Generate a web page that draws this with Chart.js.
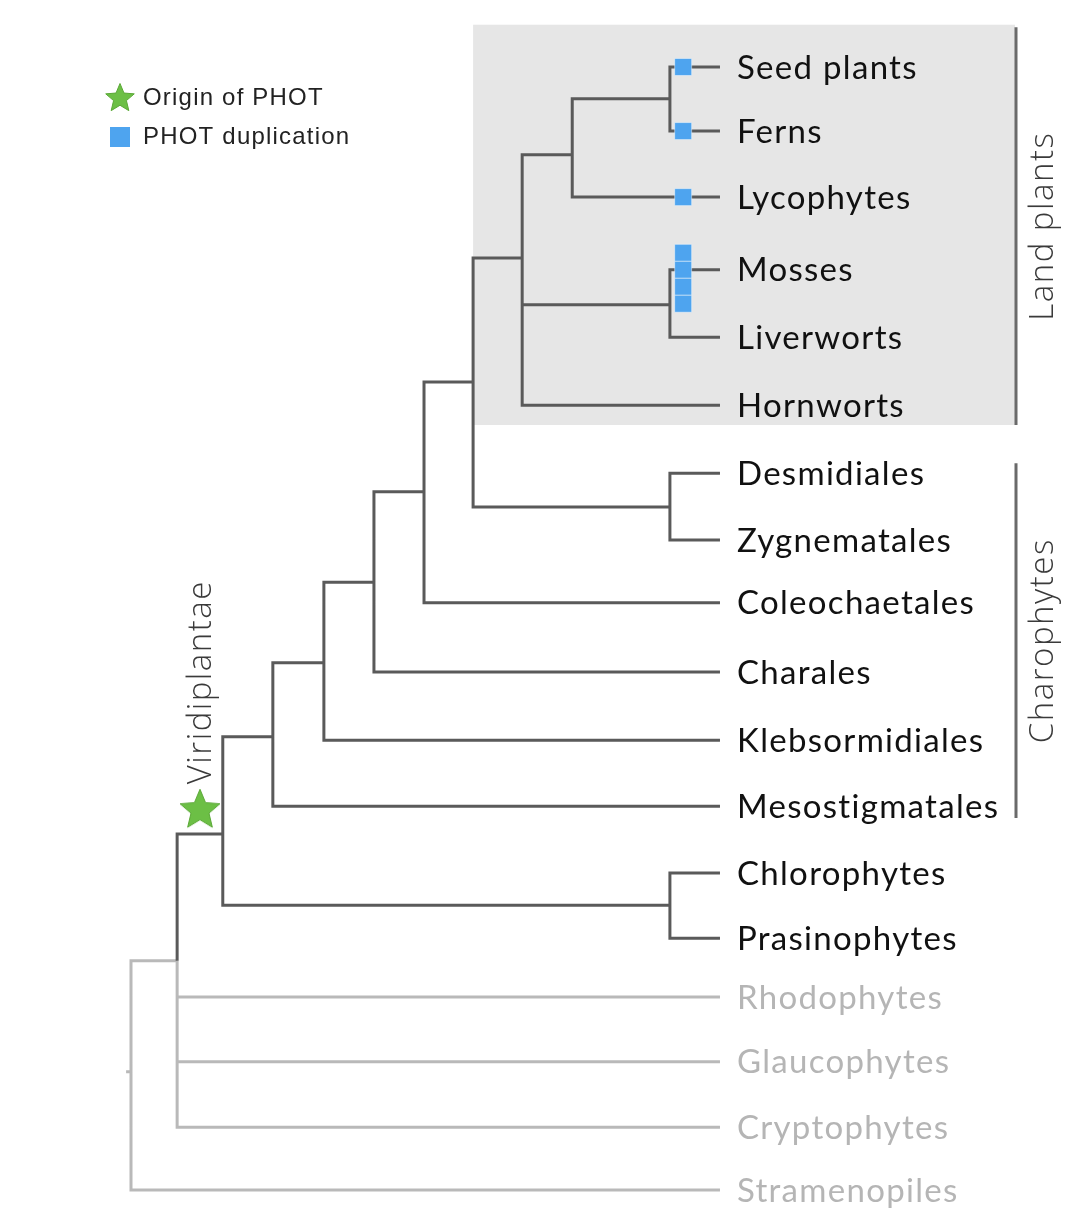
<!DOCTYPE html>
<html>
<head>
<meta charset="utf-8">
<script src="https://cdn.jsdelivr.net/npm/chart.js@4.4.0/dist/chart.umd.min.js"></script>
<style>
    html, body { margin: 0; padding: 0; background: #fff; }
    #wrap { width: 1090px; height: 1220px; position: relative; }
</style>
</head>
<body>
<div id="wrap"><canvas id="treeChart"></canvas></div>
<script>
// tips of the tree, top to bottom, with their row
const taxa = ['Seed plants', 'Ferns', 'Lycophytes', 'Mosses', 'Liverworts', 'Hornworts',
    'Desmidiales', 'Zygnematales', 'Coleochaetales', 'Charales', 'Klebsormidiales', 'Mesostigmatales',
    'Chlorophytes', 'Prasinophytes', 'Rhodophytes', 'Glaucophytes', 'Cryptophytes', 'Stramenopiles'];
const taxaRow = [0, 0.97, 1.97, 3.07, 4.09, 5.12, 6.15, 7.16, 8.11, 9.16, 10.19, 11.19,
    12.2, 13.19, 14.08, 15.06, 16.05, 17];
const tipDepth = 12;

// internal nodes: depth from the root, row of the stem, children
const nodeNames = ['sf', 'sfl', 'ml', 'land', 'dz', 'ldz', 'col', 'cha', 'kle', 'mes', 'chl',
    'Viridiplantae', 'arch', 'root'];
const nodeDepth = [10.98, 8.99, 10.98, 7.97, 10.98, 6.97, 5.97, 4.95, 3.93, 2.89, 10.98, 1.87, 0.94, 0];
const nodeRow = [0.48, 1.33, 3.6, 2.89, 6.66, 4.77, 6.43, 7.8, 9.02, 10.14, 12.69, 11.61, 13.53, 15.21];
const nodeChildren = [
    ['Seed plants', 'Ferns'],
    ['sf', 'Lycophytes'],
    ['Mosses', 'Liverworts'],
    ['sfl', 'ml', 'Hornworts'],
    ['Desmidiales', 'Zygnematales'],
    ['land', 'dz'],
    ['ldz', 'Coleochaetales'],
    ['col', 'Charales'],
    ['cha', 'Klebsormidiales'],
    ['kle', 'Mesostigmatales'],
    ['Chlorophytes', 'Prasinophytes'],
    ['mes', 'chl'],
    ['Viridiplantae', 'Rhodophytes', 'Glaucophytes', 'Cryptophytes'],
    ['arch', 'Stramenopiles']
];

// PHOT events
const originNode = 'Viridiplantae';
const duplicationTaxa = ['Seed plants', 'Ferns', 'Lycophytes', 'Mosses'];
const duplicationCounts = [1, 1, 1, 4];

// bracketed clades
const cladeNames = ['Land plants', 'Charophytes'];
const cladeFirst = ['Seed plants', 'Desmidiales'];
const cladeLast = ['Hornworts', 'Mesostigmatales'];
const shadedClade = 'Land plants';

const legendLabels = ['Origin of PHOT', 'PHOT duplication'];

const DARK = '#5a5a5a';
const LIGHT = '#b9b9b9';
const BLUE = '#4ea4ef';
const GREEN = '#6cbf45';

function depthOf(name) {
    const i = nodeNames.indexOf(name);
    return i >= 0 ? nodeDepth[i] : tipDepth;
}
function rowOf(name) {
    const i = nodeNames.indexOf(name);
    return i >= 0 ? nodeRow[i] : taxaRow[taxa.indexOf(name)];
}
function parentOf(name) {
    const i = nodeChildren.findIndex(ch => ch.includes(name));
    return i >= 0 ? nodeNames[i] : null;
}

// everything below Viridiplantae is drawn dark, the rest light
const greenSet = new Set();
(function collect(name) {
    greenSet.add(name);
    const i = nodeNames.indexOf(name);
    if (i >= 0) nodeChildren[i].forEach(collect);
})(originNode);

const darkLines = [];
const lightLines = [];
nodeNames.forEach((name, i) => {
    nodeChildren[i].forEach(child => {
        const target = greenSet.has(child) ? darkLines : lightLines;
        target.push({ x: nodeDepth[i], y: nodeRow[i] });
        target.push({ x: nodeDepth[i], y: rowOf(child) });
        target.push({ x: depthOf(child), y: rowOf(child) });
        target.push({ x: NaN, y: NaN });
    });
});
const rootIdx = nodeNames.indexOf('root');
lightLines.push({ x: nodeDepth[rootIdx] - 0.1, y: nodeRow[rootIdx] });
lightLines.push({ x: nodeDepth[rootIdx], y: nodeRow[rootIdx] });

// duplication squares sit near the end of the terminal branch, stacked when several
const dupPoints = [];
duplicationTaxa.forEach((t, i) => {
    const n = duplicationCounts[i];
    for (let k = 0; k < n; k++) {
        dupPoints.push({ x: tipDepth - 0.75, y: rowOf(t) + (k - (n > 1 ? 1 : 0)) * 0.257 });
    }
});

// origin star halfway along the Viridiplantae stem
const originPoint = [{
    x: (depthOf(parentOf(originNode)) + depthOf(originNode)) / 2,
    y: rowOf(originNode) - 0.39
}];

function makeStar(r, color) {
    const c = document.createElement('canvas');
    c.width = c.height = Math.ceil(r * 2 + 4);
    const g = c.getContext('2d');
    const cx = c.width / 2, cy = c.height / 2 + r * 0.1;
    g.beginPath();
    for (let k = 0; k < 10; k++) {
        const rr = k % 2 === 0 ? r : r * 0.45;
        const a = -Math.PI / 2 + k * Math.PI / 5;
        g.lineTo(cx + rr * Math.cos(a), cy + rr * Math.sin(a));
    }
    g.closePath();
    g.fillStyle = color;
    g.fill();
    g.strokeStyle = '#5aa836';
    g.lineWidth = 1;
    g.stroke();
    return c;
}
const bigStar = makeStar(21, GREEN);
const smallStar = makeStar(15, GREEN);

const treeDecor = {
    id: 'treeDecor',
    beforeDatasetsDraw(chart) {
        const { ctx, scales: { x, y } } = chart;
        const ci = cladeNames.indexOf(shadedClade);
        const left = x.getPixelForValue(depthOf(parentOf('land')));
        const top = y.getPixelForValue(rowOf(cladeFirst[ci]) - 0.64);
        const bottom = y.getPixelForValue(rowOf(cladeLast[ci]) + 0.3);
        ctx.save();
        ctx.fillStyle = '#e6e6e6';
        ctx.fillRect(left, top, 1015 - left, bottom - top);
        ctx.restore();
    },
    afterDatasetsDraw(chart) {
        const { ctx, scales: { x, y } } = chart;
        ctx.save();
        // tip labels
        ctx.textAlign = 'left';
        ctx.textBaseline = 'middle';
        ctx.font = '33px Lato';
        ctx.letterSpacing = '1.3px';
        taxa.forEach((t, i) => {
            ctx.fillStyle = greenSet.has(t) ? '#111' : '#b5b5b5';
            ctx.fillText(t, x.getPixelForValue(tipDepth) + 17, y.getPixelForValue(taxaRow[i]) + 1);
        });

        // clade brackets
        const bx = 1016;
        cladeNames.forEach((name, i) => {
            const pad = name === shadedClade ? [0.6, 0.3] : [0.15, 0.18];
            const y0 = y.getPixelForValue(rowOf(cladeFirst[i]) - pad[0]);
            const y1 = y.getPixelForValue(rowOf(cladeLast[i]) + pad[1]);
            ctx.strokeStyle = '#6a6a6a';
            ctx.lineWidth = 3;
            ctx.beginPath();
            ctx.moveTo(bx, y0);
            ctx.lineTo(bx, y1);
            ctx.stroke();
            ctx.save();
            ctx.translate(bx + 28, (y0 + y1) / 2);
            ctx.rotate(-Math.PI / 2);
            ctx.textAlign = 'center';
            ctx.textBaseline = 'middle';
            ctx.font = '300 33px "Open Sans"';
            ctx.letterSpacing = '1.5px';
            ctx.fillStyle = '#3a3a3a';
            ctx.fillText(name, 0, 0);
            ctx.restore();
        });

        // Viridiplantae label above the star
        const sx = x.getPixelForValue(originPoint[0].x);
        const sy = y.getPixelForValue(originPoint[0].y);
        ctx.save();
        ctx.translate(sx + 2, sy - 24);
        ctx.rotate(-Math.PI / 2);
        ctx.textAlign = 'left';
        ctx.textBaseline = 'middle';
        ctx.font = '300 33px "Open Sans"';
        ctx.letterSpacing = '1.5px';
        ctx.fillStyle = '#3a3a3a';
        ctx.fillText(originNode, 0, 0);
        ctx.restore();

        // legend
        ctx.drawImage(smallStar, 120 - smallStar.width / 2, 97 - smallStar.height / 2);
        ctx.fillStyle = BLUE;
        ctx.fillRect(110, 127, 20, 20);
        ctx.fillStyle = '#222';
        ctx.font = '24px "Liberation Sans"';
        ctx.letterSpacing = '1.2px';
        ctx.textBaseline = 'middle';
        ctx.fillText(legendLabels[0], 143, 98);
        ctx.fillText(legendLabels[1], 143, 137);
        ctx.restore();
    }
};

new Chart(document.getElementById('treeChart'), {
    type: 'scatter',
    data: {
        datasets: [
            {
                label: 'origin',
                data: originPoint,
                pointStyle: bigStar,
                pointRadius: 20
            },
            {
                label: 'duplication',
                data: dupPoints,
                pointStyle: 'rect',
                pointRadius: 12,
                backgroundColor: BLUE,
                borderColor: 'rgba(255,255,255,0.45)',
                borderWidth: 1
            },
            {
                label: 'green lineage',
                data: darkLines,
                showLine: true,
                spanGaps: false,
                pointRadius: 0,
                borderColor: DARK,
                borderWidth: 3,
                borderJoinStyle: 'miter'
            },
            {
                label: 'other lineages',
                data: lightLines,
                showLine: true,
                spanGaps: false,
                pointRadius: 0,
                borderColor: LIGHT,
                borderWidth: 3,
                borderJoinStyle: 'miter'
            }
        ]
    },
    options: {
        responsive: true,
        maintainAspectRatio: false,
        animation: false,
        layout: { padding: 0, autoPadding: false },
        scales: {
            x: { type: 'linear', min: -2.669, max: 19.539, display: false },
            y: { type: 'linear', reverse: true, min: -1.014, max: 17.454, display: false }
        },
        plugins: {
            legend: { display: false },
            tooltip: { enabled: false }
        }
    },
    plugins: [treeDecor]
});
</script>
</body>
</html>
